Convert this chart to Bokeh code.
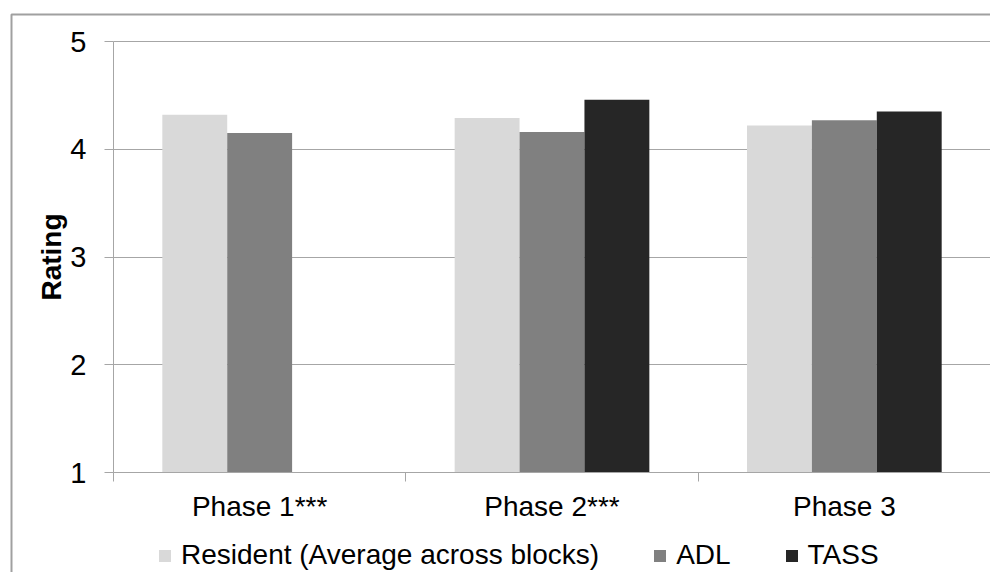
from bokeh.plotting import figure
from bokeh.models import (ColumnDataSource, Range1d, FixedTicker, Legend,
                          LegendItem, BoxAnnotation)
from bokeh.embed import file_html
from bokeh.resources import INLINE

# ---- data ----
phases = ["Phase 1***", "Phase 2***", "Phase 3"]
series = ["Resident (Average across blocks)", "ADL", "TASS"]
resident = [4.32, 4.29, 4.22]
adl = [4.15, 4.16, 4.27]
tass = [None, 4.46, 4.35]
y_ticks = [1, 2, 3, 4, 5]
colors = ["#D9D9D9", "#808080", "#262626"]

FONT = "Liberation Sans"
GRID = "#A6A6A6"

# ---- layout (pixels) ----
W, H = 990, 572
AX_X, TOP_Y, BOT_Y = 113, 41, 472      # pixel positions of x=0, y=5, y=1
n = len(phases)
ppx = (W - AX_X) / n
ppy = (BOT_Y - TOP_Y) / (y_ticks[-1] - y_ticks[0])
x_rng = Range1d(-AX_X / ppx, n)
y_rng = Range1d(y_ticks[0] - (H - BOT_Y) / ppy, y_ticks[-1] + TOP_Y / ppy)

p = figure(width=W, height=H, x_range=x_rng, y_range=y_rng,
           output_backend="svg", toolbar_location=None,
           min_border=0, min_border_left=0, min_border_right=0,
           min_border_top=0, min_border_bottom=0)
p.outline_line_color = None
p.background_fill_color = "white"
p.border_fill_color = "white"

bar_w = 0.222
offsets = [-bar_w, 0.0, bar_w]
renderers = []
for k, (vals, col) in enumerate(zip([resident, adl, tass], colors)):
    xs, tops = [], []
    for i, v in enumerate(vals):
        if v is None:
            continue
        xs.append(i + 0.5 + offsets[k])
        tops.append(v)
    src = ColumnDataSource(dict(x=xs, top=tops))
    r = p.vbar(x="x", top="top", bottom=y_ticks[0], width=bar_w, source=src,
               fill_color=col, line_color=None)
    renderers.append(r)

# grid
p.xgrid.visible = False
yg = p.ygrid[0]
yg.ticker = FixedTicker(ticks=y_ticks)
yg.grid_line_color = GRID
yg.grid_line_width = 1
if "cross_bounds" in yg.properties():
    yg.cross_bounds = (0, n)
else:
    yg.visible = False
    p.segment(x0=0, x1=n, y0=y_ticks, y1=y_ticks, line_color=GRID,
              line_width=1, level="underlay")

# y axis (drawn at x = 0)
ya = p.yaxis[0]
ya.fixed_location = 0
ya.bounds = (y_ticks[0], y_ticks[-1])
ya.ticker = FixedTicker(ticks=y_ticks)
ya.major_tick_out = 9
ya.major_tick_in = 0
ya.major_tick_line_color = GRID
ya.minor_tick_line_color = None
ya.axis_line_color = GRID
ya.major_label_text_font = FONT
ya.major_label_text_font_size = "29px"
ya.major_label_text_color = "black"
ya.major_label_standoff = 18
ya.axis_label = "Rating"
ya.axis_label_text_font = FONT
ya.axis_label_text_font_size = "28px"
ya.axis_label_text_font_style = "bold"
ya.axis_label_text_color = "black"
ya.axis_label_standoff = 0

# x axis (drawn at y = 1)
xa = p.xaxis[0]
xa.fixed_location = y_ticks[0]
xa.bounds = (0, n)
centers = [i + 0.5 for i in range(n)]
bounds = [float(i) for i in range(n + 1)]
xa.ticker = FixedTicker(ticks=centers, minor_ticks=bounds)
xa.major_label_overrides = {c: lab for c, lab in zip(centers, phases)}
xa.major_tick_line_color = None
xa.major_tick_out = 0
xa.major_tick_in = 0
xa.minor_tick_out = 9
xa.minor_tick_in = 0
xa.minor_tick_line_color = GRID
xa.axis_line_color = GRID
xa.major_label_text_font = FONT
xa.major_label_text_font_size = "28px"
xa.major_label_text_color = "black"
xa.major_label_standoff = 9

# legend
legend = Legend(items=[LegendItem(label=s, renderers=[r]) for s, r in zip(series, renderers)],
                location=(157, 1), orientation="horizontal",
                glyph_width=15, glyph_height=15, label_standoff=9, spacing=53,
                padding=0, margin=0, border_line_color=None,
                background_fill_alpha=0,
                label_text_font=FONT, label_text_font_size="28px",
                label_text_color="black")
p.add_layout(legend)

# outer chart border (top and left edges visible)
border = BoxAnnotation(left=11, right=W + 50, top=14, bottom=H + 50,
                       left_units="canvas", right_units="canvas",
                       top_units="canvas", bottom_units="canvas",
                       fill_alpha=0, line_color="#A0A0A0", line_alpha=1.0,
                       line_dash="solid", line_width=2,
                       level="underlay")
p.add_layout(border)

open("out.html", "w").write(file_html(p, INLINE))
